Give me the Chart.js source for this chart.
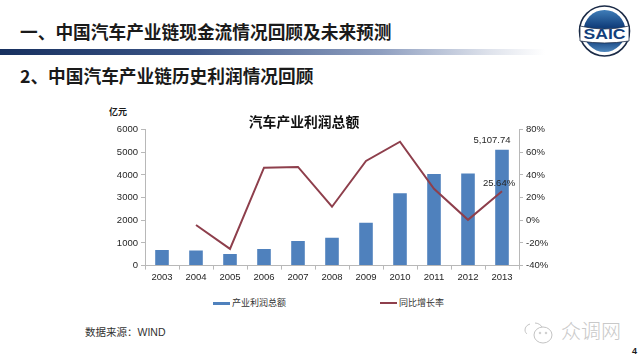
<!DOCTYPE html>
<html>
<head>
<meta charset="utf-8">
<script src="https://cdn.jsdelivr.net/npm/chart.js@4"></script>
<style>
html,body{margin:0;padding:0;background:#fff;overflow:hidden}
body{width:640px;height:360px;position:relative;font-family:"Noto Sans CJK SC","Liberation Sans",sans-serif;color:#1a1a1a}
.abs{position:absolute;white-space:nowrap}
.h{font-size:17.7px;font-weight:700;line-height:24px;left:20px}
#bar{left:0;top:49px;width:545px;height:6px;background:linear-gradient(90deg,#17305f 0%,#3c5688 35%,#8f9fc0 70%,#dfe3ec 90%,#fff 100%)}
#wrap{position:absolute;left:0;top:102px;width:608px;height:183px}
.leg{font-size:9px;line-height:12px;color:#333;top:297px}
.sw{position:absolute;height:3px;width:17px;top:302px}
</style>
</head>
<body>
<div class="abs h" style="top:19px">一、中国汽车产业链现金流情况回顾及未来预测</div>
<div id="bar" class="abs"></div>
<div class="abs h" style="top:63px">2、中国汽车产业链历史利润情况回顾</div>
<svg class="abs" style="left:578px;top:5px" width="53" height="53" viewBox="0 0 53 53">
  <defs><linearGradient id="lg" x1="0" y1="0" x2="0" y2="1">
    <stop offset="0" stop-color="#3f7db8"/><stop offset=".4" stop-color="#123f7c"/><stop offset=".7" stop-color="#123f7c"/><stop offset="1" stop-color="#4f87bd"/>
  </linearGradient></defs>
  <circle cx="26.5" cy="26" r="25" fill="#fff" stroke="#1b2b47" stroke-width="1.6"/>
  <circle cx="26.5" cy="26" r="21" fill="url(#lg)"/>
  <path d="M2 21Q26.5 27 51 21L51 36Q26.5 40 2 36Z" fill="#fff" stroke="#1b2b47" stroke-width=".8"/>
  <text x="26.5" y="34" text-anchor="middle" textLength="42" lengthAdjust="spacingAndGlyphs" font-family="Liberation Sans" font-weight="700" font-size="14.5" fill="#123f7c">SAIC</text>
</svg>
<div class="abs" style="left:109px;top:106px;font-size:9px;line-height:12px;font-weight:700">亿元</div>
<div id="wrap"><canvas id="c1"></canvas></div>
<div id="sw1" class="sw"></div><div class="abs leg" style="left:232px">产业利润总额</div>
<div id="sw2" class="sw"></div><div class="abs leg" style="left:399px">同比增长率</div>
<div class="abs" style="left:85px;top:324px;font-size:10.5px;line-height:16px;color:#333">数据来源：<span style="font-family:'Liberation Sans'">WIND</span></div>
<svg class="abs" style="left:522px;top:321px" width="34" height="24" viewBox="0 0 34 24" fill="none" stroke="#c4c4c4" stroke-width="1">
  <path d="M8 3c-3 1-5 3-5 6 0 2 1 3 2 4"/>
  <path d="M13 2c3 0 6 2 7 4"/>
  <ellipse cx="21" cy="14" rx="9" ry="8"/>
  <circle cx="18" cy="12" r=".8"/><circle cx="24" cy="12" r=".8"/>
</svg>
<div class="abs" style="left:561px;top:319px;font-size:20px;line-height:24px;font-weight:300;color:#c9c9c9">众调网</div>
<div class="abs" style="left:632px;top:345px;font-size:9px;line-height:12px;font-weight:700;font-family:'Liberation Sans'">4</div>
<script>
const years=['2003','2004','2005','2006','2007','2008','2009','2010','2011','2012','2013'];
const profit=[690,670,510,730,1080,1230,1890,3190,4040,4060,5107.74];
const growth=[null,-4.2,-25.3,46.4,47,11.9,52.3,69.3,27.7,0.4,25.64];
const profitTicks=[0,1000,2000,3000,4000,5000,6000];
const growthTicks=[-40,-20,0,20,40,60,80];

const barColor='#4f81bd',lineColor='#8e3f4c';
const axisGray='#b8b8b8',tickTxt='#262626',tickFont={family:'Liberation Sans',size:9.5};

document.getElementById('sw1').style.cssText+=`left:213px;background:${barColor}`;
document.getElementById('sw2').style.cssText+=`left:380px;background:${lineColor};height:2px`;

// 只标最后一年的两个数值
const lastLabels={id:'lastLabels',afterDatasetsDraw(c){
  const g=c.ctx;
  const p=c.getDatasetMeta(0).data[10],b=c.getDatasetMeta(1).data[10];
  g.save();
  g.font='9.5px "Liberation Sans"';g.fillStyle='#262626';g.textAlign='center';g.textBaseline='middle';
  g.fillText('5,107.74',b.x-10,b.y-9);
  g.fillText('25.64%',p.x-3,p.y-8);
  g.restore();
}};

new Chart(document.getElementById('c1'),{
  data:{labels:years,datasets:[
    {type:'line',label:'同比增长率',data:growth,yAxisID:'y2',borderColor:lineColor,backgroundColor:lineColor,
      borderWidth:2,pointRadius:0,tension:0,spanGaps:false,order:0},
    {type:'bar',label:'产业利润总额',data:profit,yAxisID:'y',backgroundColor:barColor,
      barPercentage:.4,categoryPercentage:1,order:1}
  ]},
  options:{
    responsive:true,maintainAspectRatio:false,animation:false,
    layout:{padding:0},
    plugins:{
      tooltip:{enabled:false},
      legend:{display:false},
      title:{display:true,text:'汽车产业利润总额',color:'#111',
        font:{family:'Noto Sans CJK SC',size:13.8,weight:'700'},padding:{top:11,bottom:0}}
    },
    scales:{
      x:{offset:true,grid:{offset:true,drawOnChartArea:false,color:axisGray,tickLength:4},
        border:{color:axisGray},ticks:{color:tickTxt,font:tickFont,maxRotation:0,padding:2}},
      y:{position:'left',min:0,max:6000,
        afterBuildTicks(a){a.ticks=profitTicks.map(v=>({value:v}))},
        afterFit(a){a.width=145},
        grid:{drawOnChartArea:false,color:axisGray,tickLength:4},border:{color:axisGray},
        ticks:{color:tickTxt,font:tickFont,padding:3,callback:v=>String(v)}},
      y2:{position:'right',min:-40,max:80,
        afterBuildTicks(a){a.ticks=growthTicks.map(v=>({value:v}))},
        afterFit(a){a.width=89},
        grid:{drawOnChartArea:false,color:axisGray,tickLength:4},border:{color:axisGray},
        ticks:{color:tickTxt,font:tickFont,padding:3,callback:v=>v+'%'}}
    }
  },
  plugins:[lastLabels]
});
</script>
</body>
</html>
